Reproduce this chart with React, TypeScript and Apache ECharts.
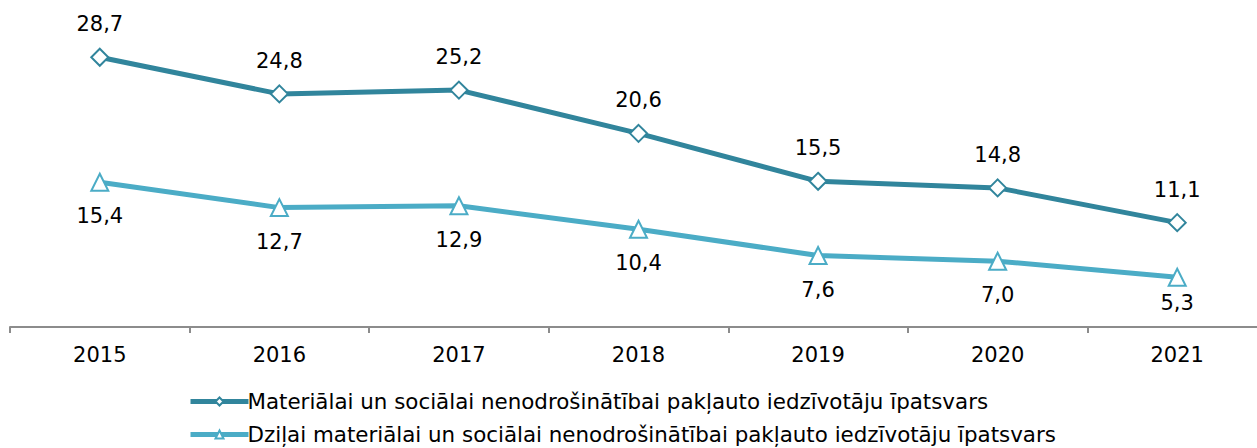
import React, { useEffect, useRef } from "react";
import * as echarts from "echarts";

const years = ["2015", "2016", "2017", "2018", "2019", "2020", "2021"];
const materialDeprivation = [28.7, 24.8, 25.2, 20.6, 15.5, 14.8, 11.1];
const severeDeprivation = [15.4, 12.7, 12.9, 10.4, 7.6, 7.0, 5.3];
const seriesNames = [
  "Materiālai un sociālai nenodrošinātībai pakļauto iedzīvotāju īpatsvars",
  "Dziļai materiālai un sociālai nenodrošinātībai pakļauto iedzīvotāju īpatsvars",
];

const FONT = "DejaVu Sans, Verdana, sans-serif";
const fmt = (v: number) => v.toFixed(1).replace(".", ",");

const legendBase = {
  orient: "horizontal",
  left: 183,
  itemWidth: 58,
  itemHeight: 10,
  lineStyle: { width: 5 },
  textStyle: { fontSize: 21.4, color: "#000", fontFamily: FONT, padding: [0, 0, 0, -6] },
};

export default function App() {
  const ref = useRef<HTMLDivElement>(null);
  useEffect(() => {
    if (!ref.current) return;
    const chart = echarts.init(ref.current, null, { renderer: "svg" });
    const lastIdx = severeDeprivation.length - 1;
    chart.setOption({
      animation: false,
      textStyle: { fontFamily: FONT },
      grid: { left: 10, right: 0, top: 45, height: 282 },
      xAxis: {
        type: "category",
        data: years,
        boundaryGap: true,
        axisLine: { lineStyle: { color: "#8c8c8c", width: 2 } },
        axisTick: { show: true, length: 6, lineStyle: { color: "#8c8c8c", width: 2 } },
        axisLabel: { color: "#000", fontSize: 21, fontFamily: FONT, margin: 17 },
      },
      yAxis: { type: "value", min: 0, max: 30, show: false, splitLine: { show: false } },
      legend: [
        { ...legendBase, top: 386, data: [seriesNames[0]] },
        { ...legendBase, top: 419, data: [seriesNames[1]] },
      ],
      series: [
        {
          name: seriesNames[0],
          type: "line",
          data: materialDeprivation,
          symbol: "diamond",
          symbolSize: 17,
          lineStyle: { color: "#31859c", width: 5 },
          itemStyle: { color: "#fff", borderColor: "#31859c", borderWidth: 2 },
          label: {
            show: true,
            position: "top",
            distance: 13,
            fontSize: 21,
            color: "#000",
            fontFamily: FONT,
            formatter: (p: any) => fmt(p.value),
          },
        },
        {
          name: seriesNames[1],
          type: "line",
          data: severeDeprivation.map((v, i) =>
            i === lastIdx ? { value: v, label: { distance: 6 } } : v
          ),
          symbol: "triangle",
          symbolSize: 17,
          lineStyle: { color: "#4bacc6", width: 5 },
          itemStyle: { color: "#fff", borderColor: "#4bacc6", borderWidth: 2 },
          label: {
            show: true,
            position: "bottom",
            distance: 14,
            fontSize: 21,
            color: "#000",
            fontFamily: FONT,
            formatter: (p: any) => fmt(p.value),
          },
        },
      ],
    });
    return () => chart.dispose();
  }, []);
  return (
    <div style={{ position: "absolute", left: 0, top: 0, width: 1257, height: 448, overflow: "hidden" }}>
      <div ref={ref} style={{ width: 1267, height: 448 }} />
    </div>
  );
}
